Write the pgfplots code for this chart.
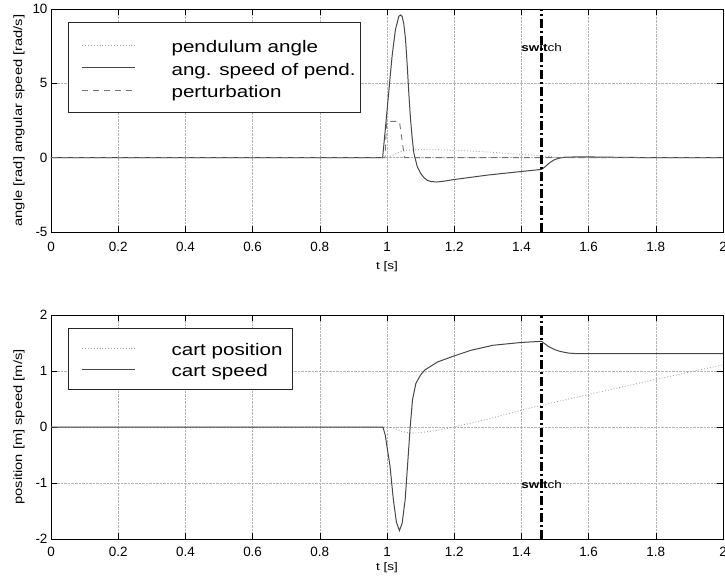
\documentclass[border=0pt]{standalone}
\usepackage{pgfplots}
\pgfplotsset{compat=1.18}
\usepackage{fontspec}
\setmainfont{Liberation Sans}
\newfontfamily\stretchfont[FakeStretch=1.23]{Liberation Sans}

\pgfplotsset{
  matlab/.style={
    scale only axis, width=672bp,
    xmin=0, xmax=2,
    xtick={0,0.2,0.4,0.6,0.8,1,1.2,1.4,1.6,1.8,2},
    grid=major,
    major grid style={densely dotted, gray!60, line width=0.5bp},
    tick align=inside, major tick length=6bp,
    tick style={black, line width=0.5bp},
    axis line style={black, line width=0.9bp},
    /pgf/number format/assume math mode=true,
    ticklabel style={font=\fontsize{13.5}{15}\selectfont},
    y label style={at={(axis description cs:-0.0476,0.5)}, anchor=center,
      font=\stretchfont\fontsize{12}{14}\selectfont},
    x label style={at={(axis description cs:0.5,0)}, anchor=center,
      font=\stretchfont\fontsize{11}{13}\selectfont},
    legend image code/.code={
      \draw[#1] (0bp,0bp) -- (53bp,0bp);
    },
    legend cell align=left,
  },
  sol/.style={black!72, line width=1bp},
  dots/.style={gray!75, line width=0.8bp, dash pattern=on 0.9bp off 2bp},
  dash/.style={gray!90!black, line width=0.9bp, dash pattern=on 6bp off 5bp},
  sw/.style={black, line width=2.6bp, dash pattern=on 9bp off 3bp on 2bp off 3bp},
}

\begin{document}
\begin{tikzpicture}
\useasboundingbox (-51bp,-44bp) rectangle (674bp,539bp);

% ---------- top axis ----------
\begin{axis}[matlab,
  at={(0bp,307bp)}, anchor=south west,
  height=223bp,
  ymin=-5, ymax=10, ytick={-5,0,5,10},
  xticklabel style={yshift=-7bp},
  xlabel={t [s]}, x label style={yshift=-35bp},
  ylabel={angle [rad] angular speed [rad/s]},
  legend style={at={(axis description cs:0.0253,0.942)}, anchor=north west,
    draw=black!85, line width=1.2bp, fill=white,
    inner xsep=13bp, inner ysep=11.25bp, column sep=0pt,
    font=\stretchfont\fontsize{16.8}{19}\selectfont,
    nodes={inner xsep=0pt, inner ysep=0pt, text height=18.75bp, text depth=3.75bp}},
]
\addplot[dots] coordinates {
(0,0) (1.0,0) (1.02,0.2) (1.04,0.4) (1.06,0.5) (1.1,0.55) (1.2,0.5)
(1.3,0.38) (1.4,0.22) (1.46,0.12) (1.5,0.03) (1.55,0) (2,0)};
\addlegendentry{\hspace*{36bp}pendulum angle}
\addplot[sol] coordinates {
(0,0) (0.987,0) (0.997,2.4) (1.006,4.6) (1.015,6.8) (1.025,8.6) (1.035,9.5)
(1.04,9.6) (1.045,9.5) (1.05,9.0) (1.055,8.0) (1.06,6.3) (1.065,4.3)
(1.07,2.6) (1.075,1.3) (1.08,0.3) (1.09,-0.6) (1.10,-1.05) (1.11,-1.35)
(1.12,-1.52) (1.13,-1.6) (1.148,-1.64) (1.17,-1.58) (1.2,-1.47) (1.25,-1.32)
(1.3,-1.17) (1.35,-1.05) (1.4,-0.93) (1.46,-0.79) (1.47,-0.62) (1.48,-0.42)
(1.49,-0.25) (1.50,-0.12) (1.515,-0.02) (1.53,0.03) (1.56,0.05) (1.6,0.05)
(1.7,0.02) (1.8,0) (2,0)};
\addlegendentry{\hspace*{36bp}ang. speed of pend.\hspace*{-8bp}}
\addplot[dash] coordinates {
(0,0) (0.994,0) (0.999,2.44) (1.037,2.44) (1.052,0) (2,0)};
\addlegendentry{\hspace*{36bp}perturbation}
\addplot[sw, forget plot] coordinates {(1.46,-5) (1.46,10)};
\node[font=\stretchfont\fontsize{11}{13}\selectfont] at (axis cs:1.46,7.4) {\textbf{swit}ch};
\end{axis}

% ---------- bottom axis ----------
\begin{axis}[matlab,
  at={(0bp,0bp)}, anchor=south west,
  height=224bp,
  ymin=-2, ymax=2, ytick={-2,-1,0,1,2},
  xticklabel style={yshift=-5bp},
  xlabel={t [s]}, x label style={yshift=-29bp},
  ylabel={position [m] speed [m/s]},
  legend style={at={(axis description cs:0.0253,0.942)}, anchor=north west,
    draw=black!85, line width=1.2bp, fill=white,
    inner xsep=13bp, inner ysep=9.5bp, column sep=0pt,
    font=\stretchfont\fontsize{16.8}{19}\selectfont,
    nodes={inner xsep=0pt, inner ysep=0pt, text height=17.5bp, text depth=3.5bp}},
]
\addplot[dots] coordinates {
(0,0) (1.0,0) (1.02,-0.02) (1.04,-0.07) (1.06,-0.1) (1.08,-0.11) (1.1,-0.1)
(1.15,-0.06) (1.2,0.0) (1.3,0.14) (1.4,0.3) (1.46,0.39) (1.6,0.58)
(1.8,0.85) (2.0,1.11)};
\addlegendentry{\hspace*{36bp}cart position\hspace*{-3bp}}
\addplot[sol] coordinates {
(0,0) (0.988,0) (0.995,-0.15) (1.0,-0.35) (1.009,-0.7) (1.019,-1.3)
(1.028,-1.7) (1.037,-1.85) (1.045,-1.72) (1.054,-1.3) (1.061,-0.7)
(1.069,0) (1.076,0.49) (1.086,0.78) (1.1,0.93) (1.113,1.02) (1.15,1.16)
(1.2,1.27) (1.25,1.37) (1.316,1.46) (1.4,1.51) (1.46,1.53) (1.48,1.44)
(1.5,1.38) (1.515,1.35) (1.54,1.32) (1.565,1.31) (2,1.31)};
\addlegendentry{\hspace*{36bp}cart speed}
\addplot[sw, forget plot] coordinates {(1.46,-2) (1.46,2)};
\node[font=\stretchfont\fontsize{11}{13}\selectfont] at (axis cs:1.46,-1.03) {\textbf{swit}ch};
\end{axis}
\end{tikzpicture}
\end{document}
